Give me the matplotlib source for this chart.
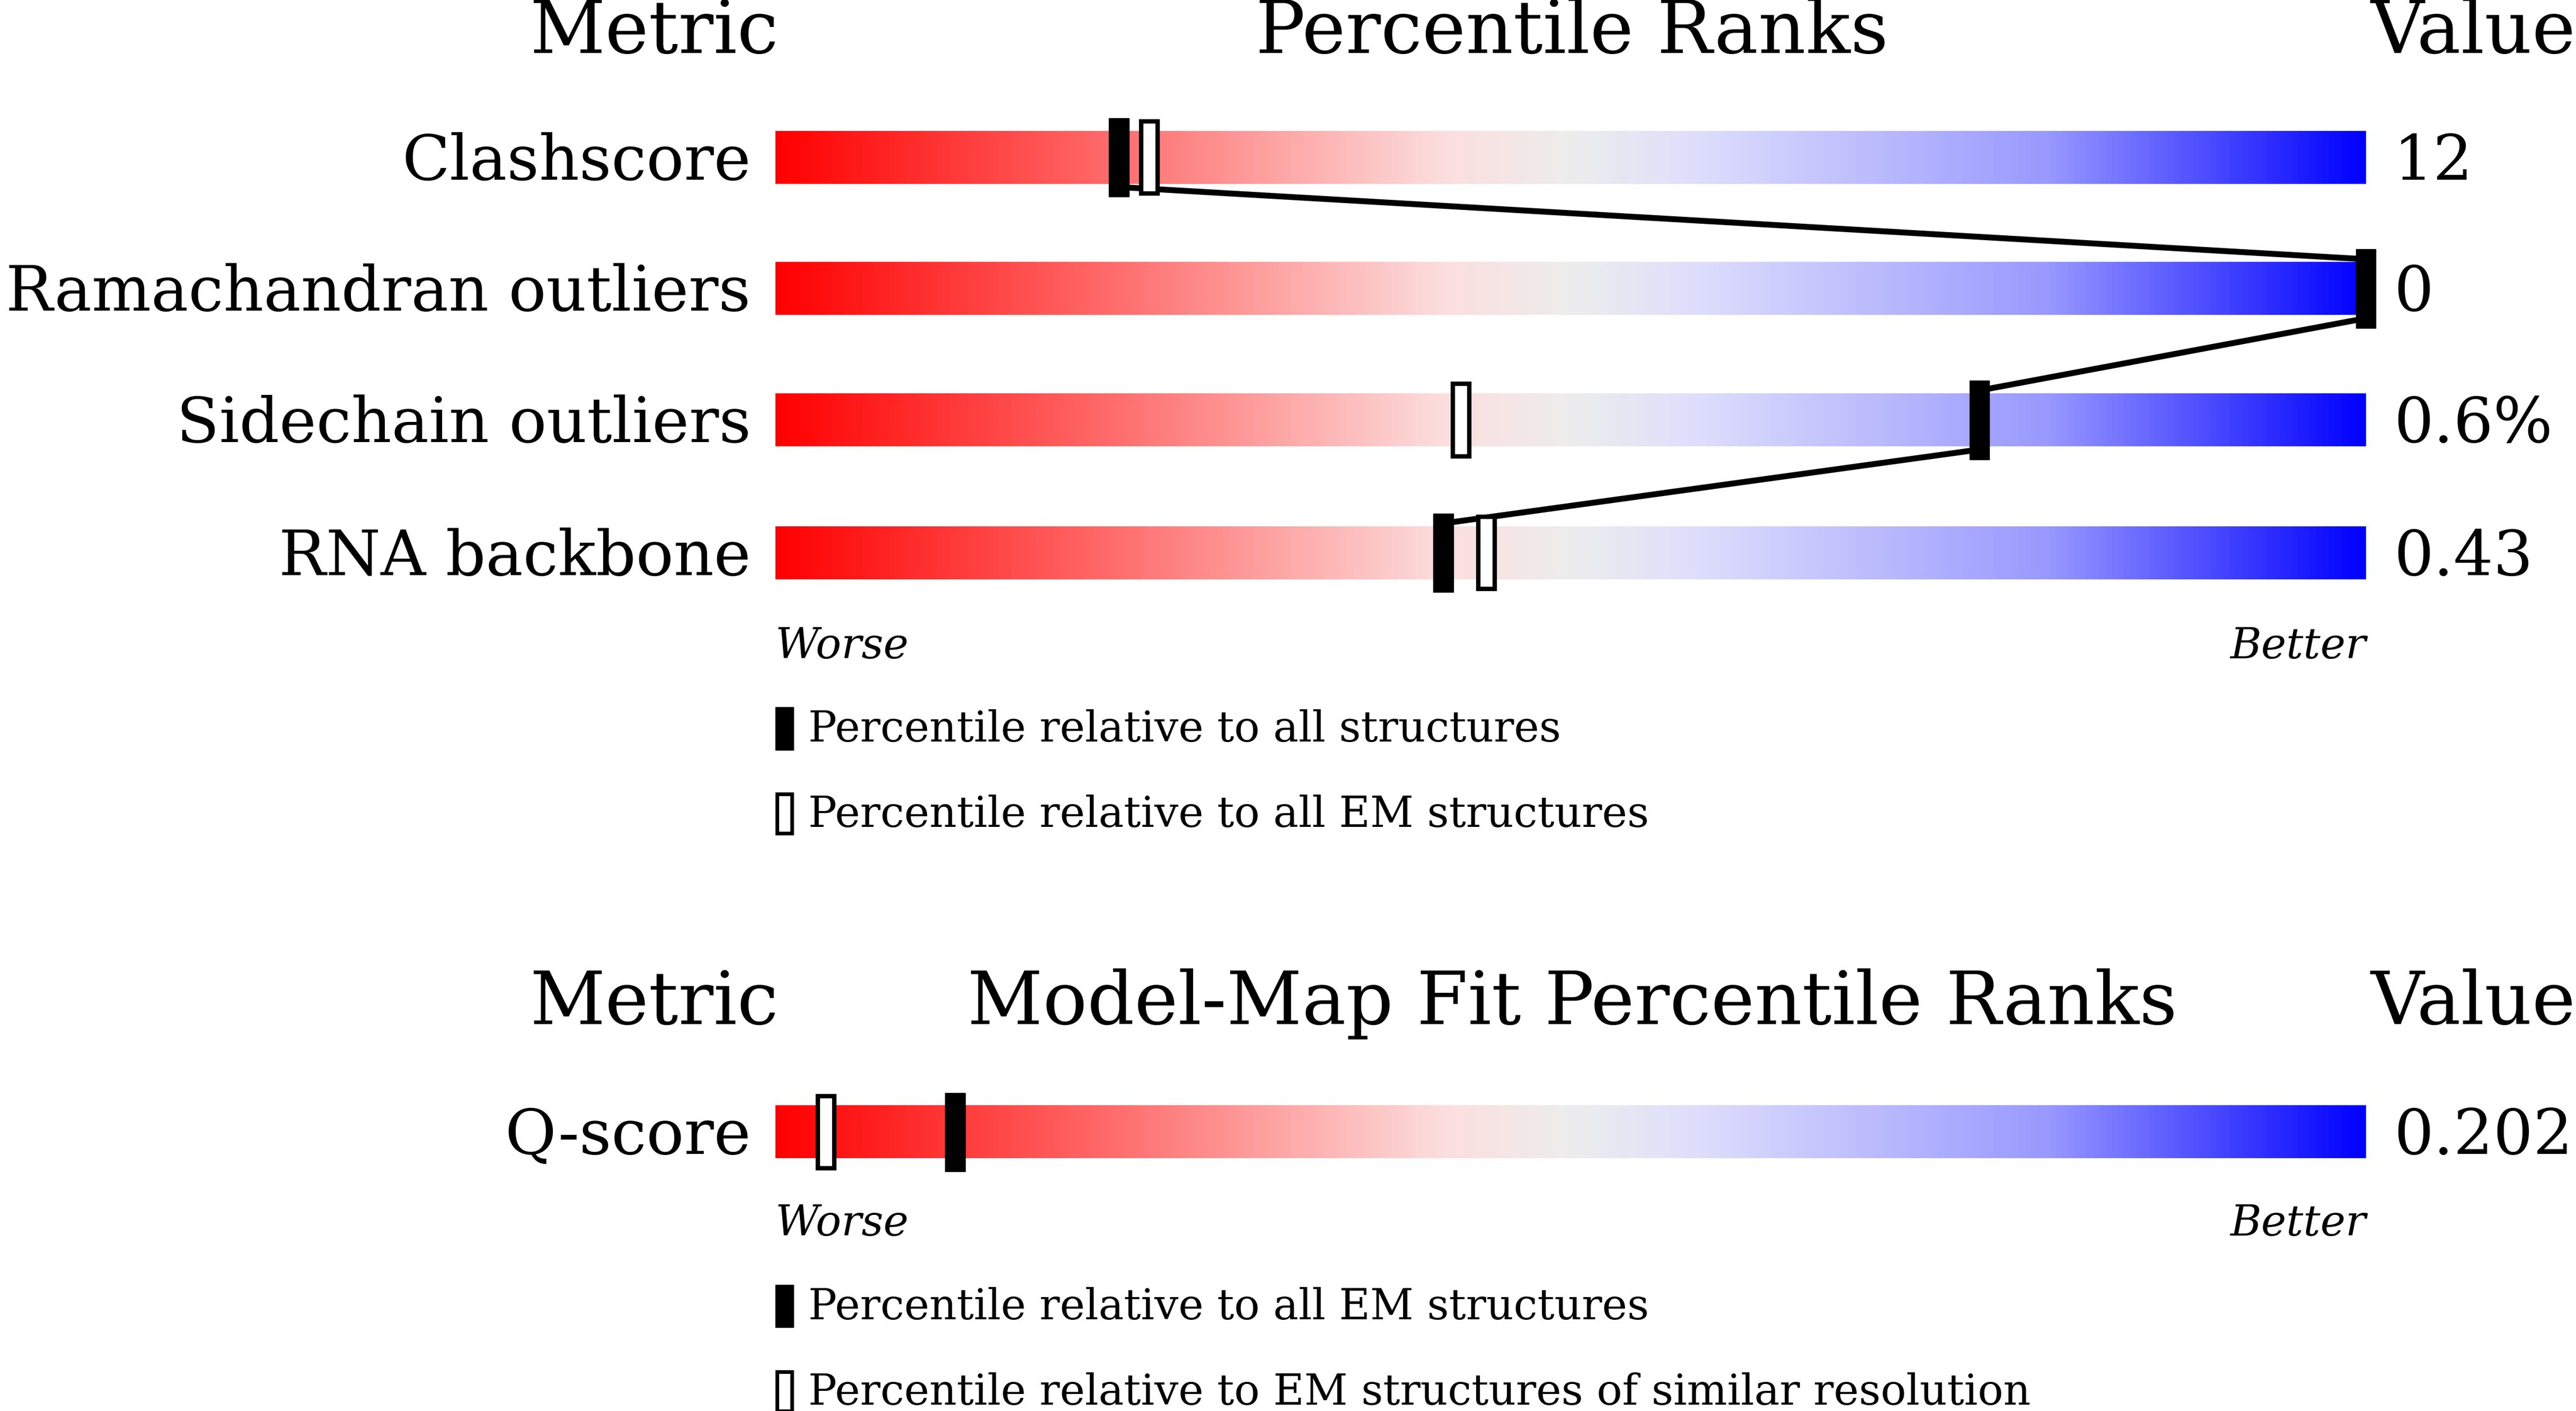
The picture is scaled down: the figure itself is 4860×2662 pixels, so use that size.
import numpy as np
import matplotlib
matplotlib.use("Agg")
import matplotlib.pyplot as plt
from matplotlib.colors import LinearSegmentedColormap
from matplotlib.patches import Rectangle

metrics = ["Clashscore", "Ramachandran outliers", "Sidechain outliers", "RNA backbone"]
values = ["12", "0", "0.6%", "0.43"]
pct_all = [21.6, 100.0, 75.7, 42.0]
pct_em = [23.5, None, 43.1, 44.7]

fit_metrics = ["Q-score"]
fit_values = ["0.202"]
fit_pct_em = [11.3]
fit_pct_res = [3.2]

W, H = 1568, 860
fig = plt.figure(figsize=(48.6, 26.62), dpi=100)
ax = fig.add_axes([0, 0, 1, 1])
ax.set_xlim(0, W)
ax.set_ylim(H, 0)
ax.axis("off")

cmap = LinearSegmentedColormap.from_list("wb", [
    (0.0, (1, 0, 0)), (0.2, (1, 0.4, 0.4)), (0.42, (0.99, 0.87, 0.87)),
    (0.5, (0.93, 0.93, 0.93)), (0.58, (0.87, 0.87, 0.99)),
    (0.8, (0.6, 0.6, 1)), (1.0, (0, 0, 1))])
grad = np.linspace(0, 1, 512).reshape(1, -1)

x0, x1 = 472, 1440
bh = 32
s = 3.1 * 0.72 * 1.36  # display px -> points
ff = "DejaVu Serif"

def px(p):
    return x0 + (x1 - x0) * p / 100.0

def marker(x, yc, filled):
    if filled:
        ax.add_patch(Rectangle((x - 6, yc - 24), 12, 48, facecolor="black", edgecolor="black", zorder=5))
    else:
        ax.add_patch(Rectangle((x - 5, yc - 22), 10, 44, facecolor="white", edgecolor="black", lw=6, zorder=5))

def row(label, val, yc):
    ax.imshow(grad, cmap=cmap, aspect="auto", extent=(x0, x1, yc + bh / 2, yc - bh / 2), zorder=1)
    ax.text(457, yc + 3, label, ha="right", va="center", fontsize=28 * s, family=ff)
    ax.text(1457, yc + 3, val, ha="left", va="center", fontsize=28 * s, family=ff)

def header(mid, y):
    ax.text(398, y, "Metric", ha="center", va="center", fontsize=33 * s, family=ff)
    ax.text(957, y, mid, ha="center", va="center", fontsize=33 * s, family=ff)
    ax.text(1568, y, "Value", ha="right", va="center", fontsize=33 * s, family=ff)

def legend(y1, t1, t2):
    ax.add_patch(Rectangle((472, y1 - 13), 11, 26, facecolor="black", edgecolor="black"))
    ax.text(492, y1 + 1, t1, ha="left", va="center", fontsize=19 * s, family=ff)
    y2 = y1 + 52
    ax.add_patch(Rectangle((473, y2 - 12), 9, 24, facecolor="white", edgecolor="black", lw=5))
    ax.text(492, y2 + 1, t2, ha="left", va="center", fontsize=19 * s, family=ff)

header("Percentile Ranks", 20)
ys = [96, 176, 256, 337]
for lab, v, y in zip(metrics, values, ys):
    row(lab, v, y)
for i in range(len(ys) - 1):
    ax.plot([px(pct_all[i]), px(pct_all[i + 1])], [ys[i] + 18, ys[i + 1] - 18],
            color="black", lw=8, zorder=4)
for p, q, y in zip(pct_all, pct_em, ys):
    if q is not None:
        marker(px(q), y, False)
    marker(px(p), y, True)
ax.text(472, 394, "Worse", ha="left", va="center", fontsize=19 * s, family=ff, style="italic")
ax.text(1440, 394, "Better", ha="right", va="center", fontsize=19 * s, family=ff, style="italic")
legend(444, "Percentile relative to all structures", "Percentile relative to all EM structures")

header("Model-Map Fit Percentile Ranks", 612)
yq = [690]
for lab, v, y in zip(fit_metrics, fit_values, yq):
    row(lab, v, y)
for p, q, y in zip(fit_pct_em, fit_pct_res, yq):
    marker(px(q), y, False)
    marker(px(p), y, True)
ax.text(472, 746, "Worse", ha="left", va="center", fontsize=19 * s, family=ff, style="italic")
ax.text(1440, 746, "Better", ha="right", va="center", fontsize=19 * s, family=ff, style="italic")
legend(796, "Percentile relative to all EM structures", "Percentile relative to EM structures of similar resolution")

fig.savefig("out.png", dpi=100)
